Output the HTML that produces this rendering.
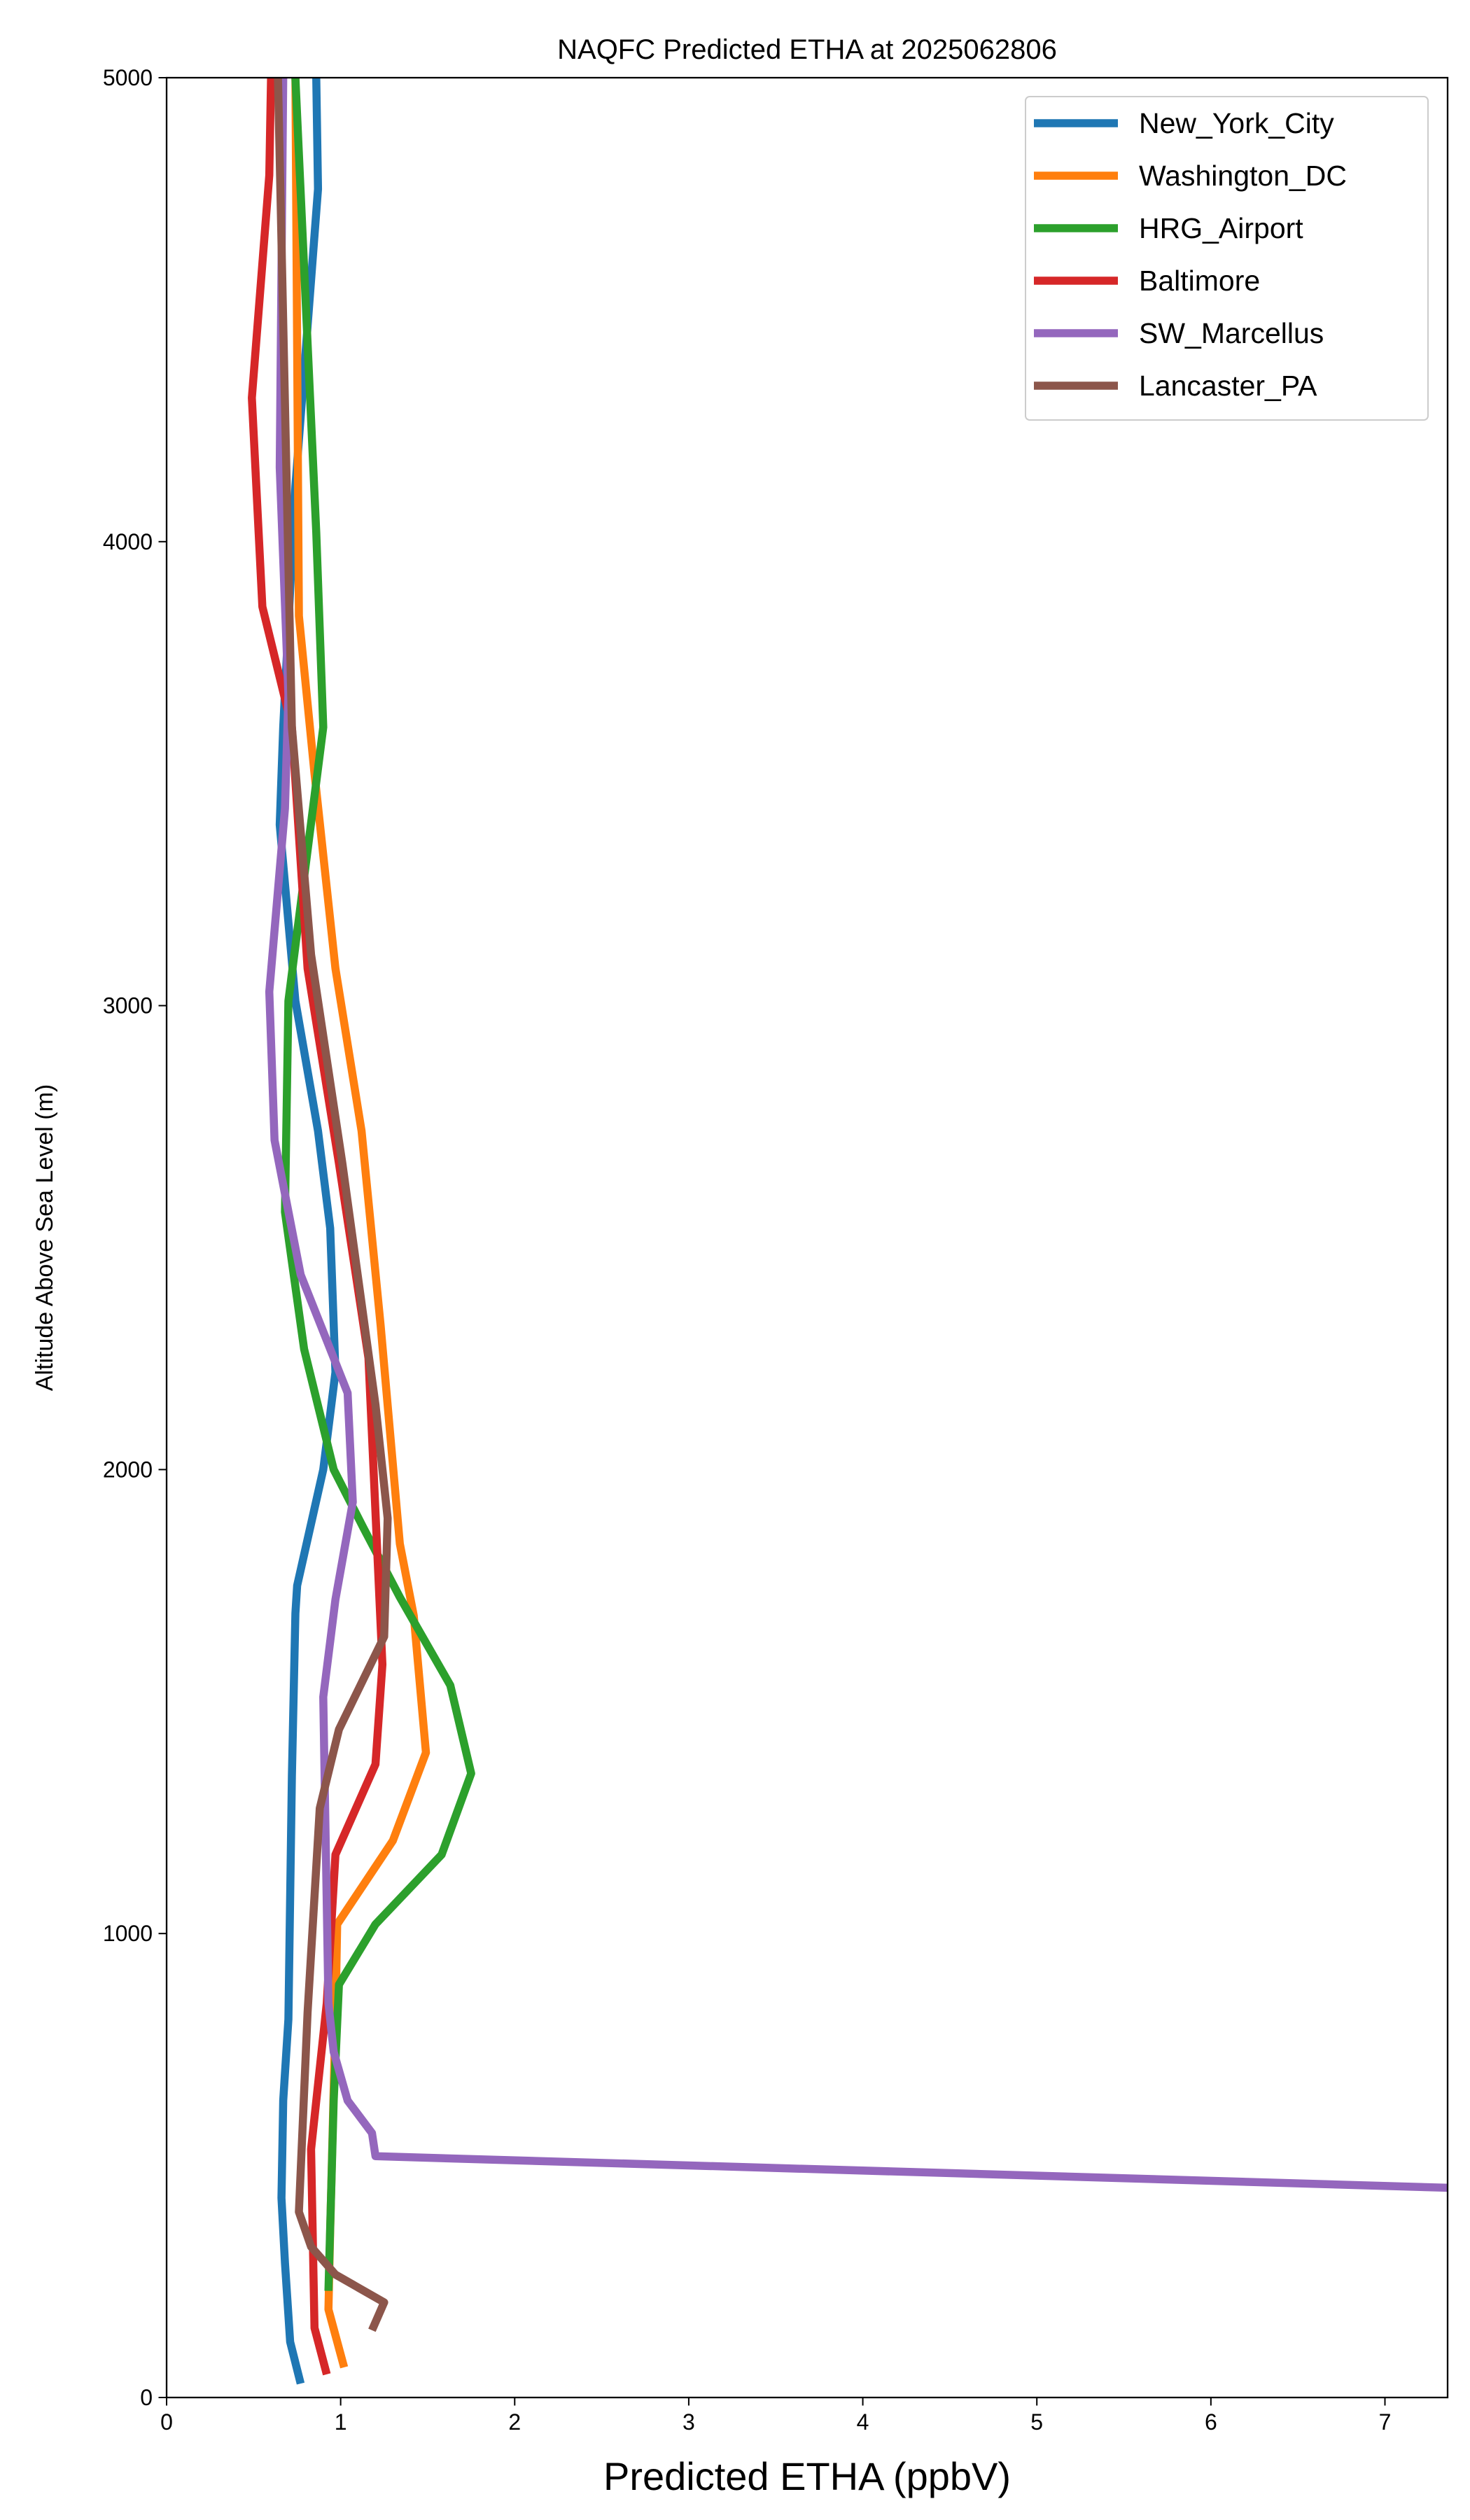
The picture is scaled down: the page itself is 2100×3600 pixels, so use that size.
<!DOCTYPE html>
<html><head><meta charset="utf-8"><style>
html,body{margin:0;padding:0;background:#fff;}
svg{display:block;font-family:"Liberation Sans","DejaVu Sans",sans-serif;}
</style></head><body>
<svg id="chart" width="2100" height="3600" viewBox="0 0 2100 3600" xmlns="http://www.w3.org/2000/svg">
<rect width="2100" height="3600" fill="#fff"/>
<defs><clipPath id="pc"><rect x="238" y="111" width="1830" height="3314"/></clipPath></defs>
<g id="series" clip-path="url(#pc)"></g>
<g id="axes"></g>
<text x="1153" y="84" font-size="40" text-anchor="middle">NAQFC Predicted ETHA at 2025062806</text>
<text x="1153" y="3557" font-size="56" text-anchor="middle">Predicted ETHA (ppbV)</text>
<text transform="translate(75,1768) rotate(-90)" font-size="34" text-anchor="middle">Altitude Above Sea Level (m)</text>
<g id="legend"></g>
</svg>
<script>
const names=["New_York_City","Washington_DC","HRG_Airport","Baltimore","SW_Marcellus","Lancaster_PA"];
const colors=["#1f77b4","#ff7f0e","#2ca02c","#d62728","#9467bd","#8c564b"];
const xTicks=[0,1,2,3,4,5,6,7];
const yTicks=[0,1000,2000,3000,4000,5000];
const nycX=[0.77,0.71,0.68,0.66,0.67,0.70,0.72,0.74,0.75,0.90,0.97,0.94,0.87,0.74,0.65,0.67,0.74,0.87,0.86];
const nycY=[30,120,290,430,640,815,1340,1690,1750,2000,2210,2520,2730,3010,3390,3600,4120,4760,5000];
const dcX=[1.02,0.93,0.94,0.97,0.98,1.30,1.49,1.42,1.34,1.23,1.12,0.97,0.85,0.76,0.74];
const dcY=[65,190,360,815,1020,1200,1390,1685,1840,2310,2730,3080,3500,3840,5000];
const hrgX=[0.93,0.96,0.99,1.20,1.58,1.75,1.63,1.34,1.13,0.96,0.79,0.68,0.70,0.90,0.86,0.74];
const hrgY=[230,640,890,1020,1170,1345,1535,1725,1875,2000,2260,2555,3010,3600,4020,5000];
const balX=[0.92,0.85,0.83,0.92,0.97,1.20,1.24,1.21,1.16,0.99,0.81,0.72,0.55,0.49,0.59,0.60];
const balY=[50,150,535,850,1170,1365,1580,1825,2240,2660,3080,3600,3860,4310,4790,5000];
const swmX=[8.0,1.20,1.18,1.04,0.96,0.93,0.90,0.97,1.07,1.04,0.77,0.62,0.59,0.68,0.70,0.65,0.67];
const swmY=[445,520,570,640,745,850,1510,1720,1930,2165,2420,2710,3030,3425,3670,4160,5000];
const lanX=[1.18,1.25,0.97,0.83,0.76,0.81,0.88,0.99,1.25,1.27,1.20,1.01,0.83,0.72,0.64];
const lanY=[145,205,265,325,400,830,1270,1440,1640,1895,2140,2660,3110,3600,5000];
const seriesX=[nycX,dcX,hrgX,balX,swmX,lanX];
const seriesY=[nycY,dcY,hrgY,balY,swmY,lanY];
const L=238,R=2068,T=111,B=3425,XMAX=7.36,YMAX=5000;
const sx=v=>L+v/XMAX*(R-L);
const sy=v=>B-v/YMAX*(B-T);
const NS="http://www.w3.org/2000/svg";
function mk(tag,attrs,parent){const e=document.createElementNS(NS,tag);for(const k in attrs)e.setAttribute(k,attrs[k]);parent.appendChild(e);return e;}
const sg=document.getElementById('series');
seriesX.forEach((xs,i)=>{
  const pts=xs.map((x,j)=>sx(x).toFixed(1)+','+sy(seriesY[i][j]).toFixed(1)).join(' ');
  const p=mk('polyline',{points:pts,fill:'none',stroke:colors[i],'stroke-width':11.5,'stroke-linejoin':'round'},sg);
  
  
});
const ax=document.getElementById('axes');
const fr=mk('rect',{x:L,y:T,width:R-L,height:B-T,fill:'none',stroke:'#000','stroke-width':2.3},ax);


xTicks.forEach(t=>{
  const x=sx(t);
  const tk=mk('line',{x1:x,x2:x,y1:B,y2:B+11.5,stroke:'#000','stroke-width':2},ax);
  
  
  const tx=mk('text',{x:x,y:B+46,'font-size':32,'text-anchor':'middle'},ax);
  tx.textContent=t;
  
  
});
yTicks.forEach(t=>{
  const y=sy(t);
  const tk=mk('line',{x1:L-11.5,x2:L,y1:y,y2:y,stroke:'#000','stroke-width':2},ax);
  
  
  const tx=mk('text',{x:L-20,y:y+11,'font-size':32,'text-anchor':'end'},ax);
  tx.textContent=t;
  
  
});
const lg=document.getElementById('legend');
const lb=mk('rect',{x:1465,y:138,width:575,height:462,rx:6,fill:'#fff','fill-opacity':0.8,stroke:'#ccc','stroke-width':2},lg);


names.forEach((n,i)=>{
  const y=176+i*75;
  const ln=mk('line',{x1:1477,x2:1597,y1:y,y2:y,stroke:colors[i],'stroke-width':11.5},lg);
  
  
  const tx=mk('text',{x:1627,y:y+14,'font-size':41},lg);
  tx.textContent=n;
  
  
});
</script>
</body></html>
